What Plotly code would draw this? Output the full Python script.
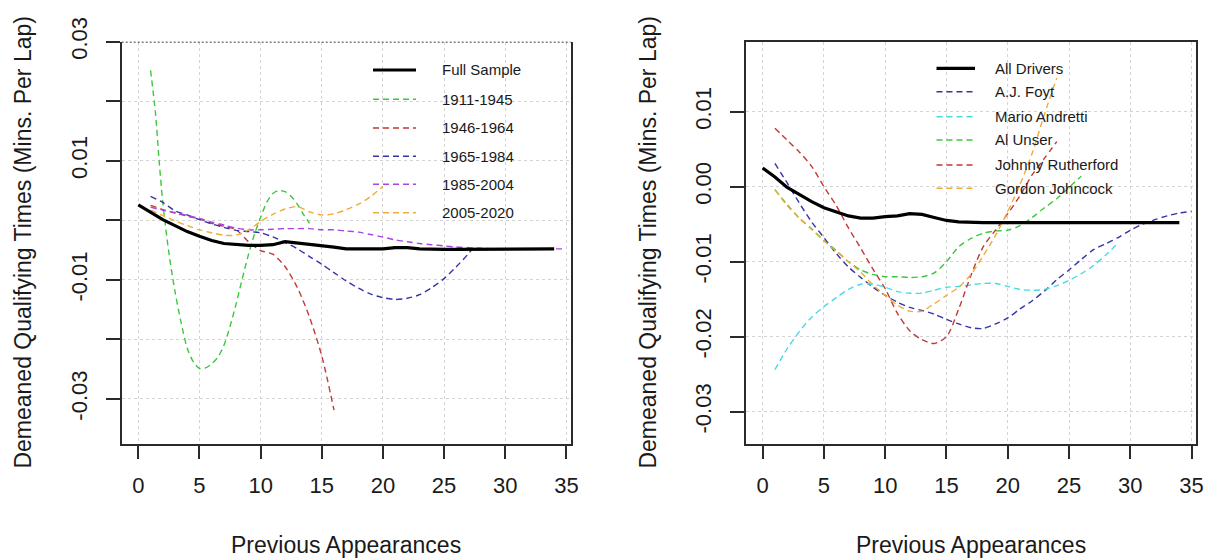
import plotly.graph_objects as go

W, H = 1206, 558
FONT = "Liberation Sans, Arial, sans-serif"

# ---------------- Left panel: qualifying-time curves by era ----------------
full_x = list(range(0, 35))
full_left = [0.0026, 0.0013, 0.0001, -0.0009, -0.0019, -0.0027, -0.0034, -0.0039, -0.0041,
             -0.0042, -0.0042, -0.0041, -0.0036, -0.0038, -0.0040, -0.0042, -0.0045, -0.0048,
             -0.0048, -0.0048, -0.0048, -0.0046, -0.0046, -0.0048, -0.0049, -0.0049, -0.0049,
             -0.0049, -0.0048, -0.0048, -0.0048, -0.0048, -0.0048, -0.0048, -0.0048]

era_1911_x = [1, 1.4, 1.7, 2, 2.5, 3, 3.5, 4, 4.5, 5, 5.5, 6, 6.5, 7, 7.5, 8, 8.5, 9, 9.5,
              10, 10.5, 11, 11.5, 12, 12.5, 13, 13.5, 14]
era_1911 = [0.0252, 0.0180, 0.0100, 0.0030, -0.0055, -0.0120, -0.0172, -0.0215, -0.0238,
            -0.0249, -0.0248, -0.0241, -0.0230, -0.0210, -0.0178, -0.0140, -0.0098, -0.0058,
            -0.0023, 0.0005, 0.0030, 0.0045, 0.0050, 0.0048, 0.0040, 0.0027, 0.0010, -0.0005]

era_1946_x = list(range(1, 17))
era_1946 = [0.0025, 0.0018, 0.0012, 0.0007, 0.0002, -0.0005, -0.0010, -0.0016, -0.0036,
            -0.0051, -0.0057, -0.0078, -0.0113, -0.0163, -0.0228, -0.0319]

era_1965_x = list(range(1, 28)) + [27.4]
era_1965 = [0.0040, 0.0030, 0.0016, 0.0009, 0.0001, -0.0006, -0.0012, -0.0017, -0.0019,
            -0.0021, -0.0028, -0.0037, -0.0048, -0.0061, -0.0074, -0.0088, -0.0102, -0.0114,
            -0.0124, -0.0130, -0.0133, -0.0131, -0.0125, -0.0113, -0.0098, -0.0078, -0.0056,
            -0.0046]

era_1985_x = list(range(1, 36))
era_1985 = [0.0022, 0.0017, 0.0013, 0.0008, 0.0003, -0.0003, -0.0008, -0.0013, -0.0016,
            -0.0016, -0.0015, -0.0014, -0.0014, -0.0014, -0.0016, -0.0016, -0.0018, -0.0020,
            -0.0024, -0.0028, -0.0033, -0.0036, -0.0039, -0.0041, -0.0043, -0.0045, -0.0046,
            -0.0047, -0.0048, -0.0048, -0.0048, -0.0048, -0.0048, -0.0048, -0.0048]

era_2005_x = list(range(1, 21))
era_2005 = [0.0017, 0.0008, -0.0001, -0.0009, -0.0016, -0.0021, -0.0025, -0.0025, -0.0016,
            -0.0002, 0.0010, 0.0019, 0.0023, 0.0014, 0.0009, 0.0011, 0.0018, 0.0027, 0.0040,
            0.0057]

# ---------------- Right panel: selected drivers ----------------
all_drivers = [0.0025, 0.0013, -0.0001, -0.0011, -0.0020, -0.0028, -0.0034, -0.0039, -0.0042,
               -0.0042, -0.0040, -0.0039, -0.0036, -0.0037, -0.0041, -0.0045, -0.0047, -0.0048,
               -0.0048, -0.0048, -0.0048, -0.0048, -0.0048, -0.0048, -0.0048, -0.0048, -0.0048,
               -0.0048, -0.0048, -0.0048, -0.0048, -0.0048, -0.0048, -0.0048, -0.0048]

foyt_x = list(range(1, 36))
foyt = [0.0031, 0.0005, -0.0022, -0.0047, -0.0068, -0.0089, -0.0107, -0.0121, -0.0134, -0.0145,
        -0.0154, -0.0161, -0.0165, -0.0170, -0.0177, -0.0183, -0.0188, -0.0189, -0.0183,
        -0.0175, -0.0163, -0.0152, -0.0139, -0.0124, -0.0111, -0.0097, -0.0084, -0.0076,
        -0.0068, -0.0058, -0.0050, -0.0044, -0.0039, -0.0035, -0.0033]

andretti_x = list(range(1, 30))
andretti = [-0.0244, -0.0216, -0.0193, -0.0174, -0.0160, -0.0148, -0.0137, -0.0130, -0.0130,
            -0.0134, -0.0140, -0.0142, -0.0142, -0.0138, -0.0134, -0.0133, -0.0131, -0.0129,
            -0.0129, -0.0133, -0.0137, -0.0138, -0.0137, -0.0132, -0.0125, -0.0116, -0.0105,
            -0.0091, -0.0075]

unser_x = list(range(1, 27))
unser = [-0.0004, -0.0024, -0.0042, -0.0056, -0.0072, -0.0085, -0.0100, -0.0111, -0.0117,
         -0.0120, -0.0120, -0.0121, -0.0120, -0.0115, -0.0100, -0.0080, -0.0069, -0.0062,
         -0.0059, -0.0058, -0.0052, -0.0041, -0.0028, -0.0016, -0.0001, 0.0014]

rutherford_x = list(range(1, 25))
rutherford = [0.0078, 0.0062, 0.0046, 0.0027, 0.0000, -0.0025, -0.0055, -0.0082, -0.0110,
              -0.0136, -0.0169, -0.0192, -0.0204, -0.0209, -0.0200, -0.0163, -0.0118, -0.0080,
              -0.0058, -0.0036, -0.0012, 0.0016, 0.0038, 0.0060]

johncock_x = list(range(1, 25))
johncock = [-0.0004, -0.0025, -0.0042, -0.0057, -0.0072, -0.0086, -0.0100, -0.0114, -0.0131,
            -0.0145, -0.0158, -0.0166, -0.0166, -0.0156, -0.0145, -0.0134, -0.0117, -0.0092,
            -0.0065, -0.0033, 0.0003, 0.0045, 0.0097, 0.0145]

x_ticks = [0, 5, 10, 15, 20, 25, 30, 35]
left_y_ticks = [-0.03, -0.02, -0.01, 0.0, 0.01, 0.02, 0.03]
left_y_text = ["-0.03", "", "-0.01", "", "0.01", "", "0.03"]
right_y_ticks = [-0.03, -0.02, -0.01, 0.0, 0.01]
right_y_text = ["-0.03", "-0.02", "-0.01", "0.00", "0.01"]

GREEN, RED, BLUE = "#3cc83c", "#c23a36", "#3434a6"
PURPLE, ORANGE, CYAN = "#a646e6", "#f0aa3a", "#46dbe2"
DASH = "6px,4px"

left_series = [
    ("Full Sample", full_x, full_left, "black", None),
    ("1911-1945", era_1911_x, era_1911, GREEN, DASH),
    ("1946-1964", era_1946_x, era_1946, RED, DASH),
    ("1965-1984", era_1965_x, era_1965, BLUE, DASH),
    ("1985-2004", era_1985_x, era_1985, PURPLE, DASH),
    ("2005-2020", era_2005_x, era_2005, ORANGE, DASH),
]
right_series = [
    ("All Drivers", full_x, all_drivers, "black", None),
    ("A.J. Foyt", foyt_x, foyt, BLUE, DASH),
    ("Mario Andretti", andretti_x, andretti, CYAN, DASH),
    ("Al Unser", unser_x, unser, GREEN, DASH),
    ("Johnny Rutherford", rutherford_x, rutherford, RED, DASH),
    ("Gordon Johncock", johncock_x, johncock, ORANGE, DASH),
]

fig = go.Figure()


def add_series(series, xa, ya):
    # dashed curves first, the solid overall curve on top
    for name, xs, ys, color, dash in series[1:] + series[:1]:
        solid = dash is None
        fig.add_trace(go.Scatter(
            x=xs, y=ys, mode="lines", name=name, showlegend=False, xaxis=xa, yaxis=ya,
            line=dict(color=color, width=3.2 if solid else 1.4,
                      dash="solid" if solid else dash,
                      shape="linear" if solid else "spline", smoothing=0.8),
            hoverinfo="skip"))


add_series(left_series, "x", "y")
add_series(right_series, "x2", "y2")

TICKFONT = dict(family=FONT, size=22, color="#1a1a1a")
axis_common = dict(showline=True, linecolor="#2a2a2a", linewidth=1.6, ticks="outside",
                   ticklen=14, tickwidth=1.5, tickcolor="#2a2a2a", tickfont=TICKFONT,
                   showgrid=True, gridcolor="#d3d3d3", gridwidth=1, griddash="3px,3px",
                   zeroline=False, automargin=False)

XR = [-1.36, 35.36]
fig.update_layout(
    width=W, height=H, margin=dict(l=0, r=0, t=0, b=0, autoexpand=False),
    paper_bgcolor="white", plot_bgcolor="white", showlegend=False,
    xaxis=dict(domain=[121.7 / W, 570.8 / W], range=XR, tickvals=x_ticks,
               ticklabelstandoff=7, anchor="y", **axis_common),
    yaxis=dict(domain=[1 - 443.5 / H, 1 - 41.7 / H], range=[-0.0375, 0.03], anchor="x",
               tickvals=left_y_ticks, ticktext=left_y_text, tickangle=-90,
               ticklabelstandoff=10, mirror=True, **axis_common),
    xaxis2=dict(domain=[746.0 / W, 1196.0 / W], range=XR, tickvals=x_ticks,
                ticklabelstandoff=7, anchor="y2", mirror=True, **axis_common),
    yaxis2=dict(domain=[1 - 443.5 / H, 1 - 41.7 / H], range=[-0.03424, 0.01933], anchor="x2",
                tickvals=right_y_ticks, ticktext=right_y_text, tickangle=-90,
                ticklabelstandoff=10, mirror=True, **axis_common),
)

# dotted upper edge of the left panel
fig.add_shape(type="line", xref="x", yref="y", x0=XR[0], x1=XR[1], y0=0.03, y1=0.03,
              line=dict(color="black", width=1.6, dash="2px,2px"))

TITLEFONT = dict(family=FONT, size=23, color="#1a1a1a")
YTITLE = "Demeaned Qualifying Times (Mins. Per Lap)"
XTITLE = "Previous Appearances"
for cx, ycx in [(346.0, 23.0), (971.0, 648.0)]:
    fig.add_annotation(text=XTITLE, xref="paper", yref="paper", x=cx / W, y=1 - 545 / H,
                       xanchor="center", yanchor="middle", showarrow=False, font=TITLEFONT)
    fig.add_annotation(text=YTITLE, xref="paper", yref="paper", x=ycx / W, y=1 - 242.6 / H,
                       xanchor="center", yanchor="middle", textangle=-90, showarrow=False,
                       font=TITLEFONT)

LEGFONT = dict(family=FONT, size=15, color="#1a1a1a")


def add_legend(series, rows, lx0, lx1, tx):
    for (name, _, _, color, dash), ry in zip(series, rows):
        solid = dash is None
        fig.add_shape(type="line", xref="paper", yref="paper",
                      x0=lx0 / W, x1=lx1 / W, y0=1 - ry / H, y1=1 - ry / H,
                      line=dict(color=color, width=3.2 if solid else 1.4,
                                dash="solid" if solid else DASH))
        fig.add_annotation(text=name, xref="paper", yref="paper", x=tx / W, y=1 - ry / H,
                           xanchor="left", yanchor="middle", showarrow=False, font=LEGFONT)


add_legend(left_series, [70, 99.3, 128, 156.3, 184.3, 212.7], 373, 416, 440)
add_legend(right_series, [68.3, 91.7, 116.7, 140, 165, 188.3], 936.5, 975, 993)

fig.write_html("out.html")
